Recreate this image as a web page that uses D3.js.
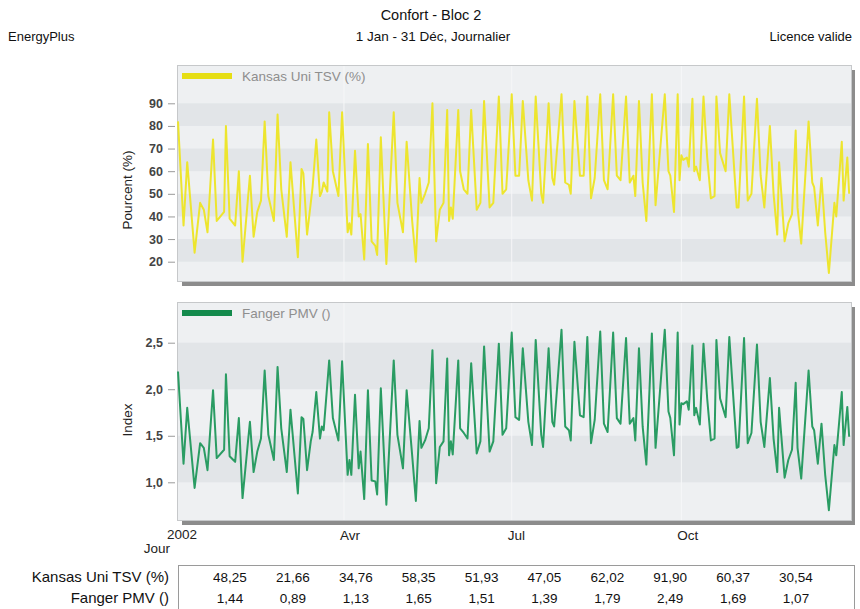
<!DOCTYPE html>
<html>
<head>
<meta charset="utf-8">
<script src="https://cdn.jsdelivr.net/npm/d3@7"></script>
<style>
  body { margin: 0; background: #fff; }
  text { font-family: "Liberation Sans", Arial, sans-serif; }
</style>
</head>
<body>
<script>
// data (day of year 2002, value)
const tsvDays = [0,3,5,9,12,14,16,19,21,25,26,28,31,33,35,39,41,43,45,47,49,52,54,56,59,61,65,67,68,70,73,75,77,78,79,81,82,84,87,89,
  92,93,94,96,98,99,101,103,105,107,108,110,113,117,119,122,124,127,129,131,132,134,136,138,140,142,144,146,147,148,149,
  152,153,155,157,159,162,164,166,169,171,174,176,178,181,183,185,187,190,192,194,197,198,201,203,204,208,210,212,213,
  215,218,220,222,224,226,229,231,233,236,238,240,243,245,247,248,250,252,254,257,259,264,266,267,269,271,272,273,274,
  276,277,279,280,281,283,285,287,289,291,292,294,297,299,303,304,307,309,311,314,316,318,321,323,325,326,329,331,333,
  335,336,338,342,344,345,347,349,351,353,356,357,360,361,363,364];
const tsvValues = [82,36,64,24,46,43,33,74,38,42,80,39,36,60,20,58,31,42,47,82,49,38,85,52,31,64,22,61,59,32,53,74,49,51,55,51,86,60,49,86,
  33,37,32,69,40,41,21,72,29,27,23,75,19,86,46,33,73,38,20,57,46,50,55,90,29,43,46,87,38,44,39,
  87,60,52,50,87,43,46,91,44,46,93,50,52,94,58,58,91,56,47,93,50,46,90,57,54,94,55,54,50,
  91,58,58,93,48,57,94,56,52,94,58,56,93,55,58,49,91,55,38,94,45,94,60,58,42,94,56,67,65,
  66,62,92,60,62,56,93,66,48,49,93,68,60,94,44,44,93,47,50,92,58,44,80,50,32,64,29,37,41,
  78,44,28,82,55,53,36,57,33,15,46,40,73,47,66,50];

const pmvDays = [0,3,5,9,12,14,16,19,21,25,26,28,31,33,35,39,41,43,45,47,49,52,54,56,59,61,65,67,68,70,72,73,75,77,78,79,82,84,87,89,
  92,93,94,96,98,99,101,103,105,107,108,110,113,117,119,122,124,127,129,131,132,134,136,138,140,142,144,146,147,148,149,
  152,153,155,157,159,162,164,166,169,171,174,176,178,181,183,185,187,190,192,194,197,198,201,203,204,208,210,212,213,
  215,218,220,222,224,226,229,231,233,236,238,240,243,245,247,248,250,252,254,257,259,264,266,267,269,271,272,273,274,
  276,277,279,280,281,283,285,287,289,291,292,294,297,299,303,304,307,309,311,314,316,318,321,323,325,326,329,331,333,
  335,336,338,342,344,345,347,349,351,353,356,357,360,361,363,364];
const pmvValues = [2.19,1.20,1.80,0.94,1.42,1.37,1.13,1.99,1.26,1.35,2.16,1.28,1.22,1.69,0.83,1.65,1.11,1.33,1.47,2.20,1.51,1.24,2.24,1.58,1.11,1.78,0.88,1.70,1.68,1.13,1.44,1.54,1.97,1.47,1.60,1.56,2.31,1.69,1.45,2.30,
  1.08,1.24,1.08,1.94,1.15,1.33,0.82,1.99,1.02,1.01,0.87,2.01,0.76,2.31,1.51,1.15,1.99,1.29,0.80,1.66,1.37,1.45,1.58,2.42,0.99,1.38,1.44,2.33,1.29,1.44,1.30,
  2.31,1.58,1.53,1.47,2.28,1.31,1.44,2.46,1.33,1.44,2.49,1.51,1.58,2.61,1.70,1.67,2.44,1.65,1.40,2.53,1.51,1.38,2.44,1.65,1.60,2.64,1.60,1.56,1.45,
  2.51,1.72,1.70,2.56,1.42,1.67,2.62,1.63,1.54,2.61,1.69,1.63,2.55,1.63,1.69,1.45,2.44,1.60,1.19,2.60,1.37,2.64,1.76,1.69,1.29,2.61,1.62,1.85,1.84,
  1.87,1.78,2.47,1.72,1.80,1.62,2.49,1.90,1.45,1.47,2.53,1.90,1.70,2.56,1.37,1.38,2.55,1.42,1.53,2.48,1.65,1.38,2.12,1.47,1.11,1.80,1.05,1.24,1.35,
  2.07,1.37,1.04,2.20,1.60,1.56,1.20,1.63,1.08,0.70,1.40,1.29,1.97,1.40,1.81,1.49];

const monthLabels = ['Avr', 'Jul', 'Oct'];
const monthIndex = [3, 6, 9];
const tsvTicks = [20, 30, 40, 50, 60, 70, 80, 90];
const pmvTicks = [1.0, 1.5, 2.0, 2.5];
const summaryNames = ['Kansas Uni TSV (%)', 'Fanger PMV ()'];
const summaryTsv = ['48,25', '21,66', '34,76', '58,35', '51,93', '47,05', '62,02', '91,90', '60,37', '30,54'];
const summaryPmv = ['1,44', '0,89', '1,13', '1,65', '1,51', '1,39', '1,79', '2,49', '1,69', '1,07'];

// metrics
const width = 860, height = 609;
const x0 = 178, x1 = 851;

const svg = d3.select('body').append('svg')
    .attr('width', width)
    .attr('height', height);

const year0 = new Date(Date.UTC(2002, 0, 1));
const dayDate = d => d3.utcDay.offset(year0, d);
const xScale = d3.scaleUtc()
    .domain([year0, new Date(Date.UTC(2003, 0, 1))])
    .range([x0, x1]);

const comma = f => v => d3.format(f)(v).replace('.', ',');

// header
svg.append('text').attr('x', 431).attr('y', 20).attr('text-anchor', 'middle')
    .attr('font-size', 14.5).attr('fill', '#111').text('Confort - Bloc 2');
svg.append('text').attr('x', 433).attr('y', 41).attr('text-anchor', 'middle')
    .attr('font-size', 13.5).attr('fill', '#111').text('1 Jan - 31 Déc, Journalier');
svg.append('text').attr('x', 8).attr('y', 41)
    .attr('font-size', 13).attr('fill', '#111').text('EnergyPlus');
svg.append('text').attr('x', 852).attr('y', 41).attr('text-anchor', 'end')
    .attr('font-size', 13).attr('fill', '#111').text('Licence valide');

function panel(opt) {
  const g = svg.append('g');
  const top = opt.top, bottom = opt.bottom;
  // shadow + frame
  g.append('rect').attr('x', x0 + 4).attr('y', top + 5)
      .attr('width', x1 - x0).attr('height', bottom - top).attr('fill', '#8c8c8c');
  g.append('rect').attr('x', x0 - 0.5).attr('y', top + 0.5)
      .attr('width', x1 - x0 + 1).attr('height', bottom - top)
      .attr('fill', '#eef0f2').attr('stroke', '#c6c8ca');
  // bands
  const t = opt.ticks;
  for (let i = 0; i < t.length - 1; i += 2) {
    g.append('rect').attr('x', x0).attr('width', x1 - x0)
        .attr('y', opt.y(t[i + 1])).attr('height', opt.y(t[i]) - opt.y(t[i + 1]))
        .attr('fill', '#e2e5e8');
  }
  // month gridlines
  g.selectAll('.vgrid').data(monthIndex).enter().append('line')
      .attr('x1', m => xScale(new Date(Date.UTC(2002, m, 1))))
      .attr('x2', m => xScale(new Date(Date.UTC(2002, m, 1))))
      .attr('y1', top + 1).attr('y2', bottom)
      .attr('stroke', '#f6f7f8').attr('stroke-width', 1);
  // y axis
  const ax = g.append('g').attr('transform', `translate(${x0 - 3},0)`)
      .call(d3.axisLeft(opt.y).tickValues(t).tickFormat(opt.fmt).tickSize(7).tickPadding(5));
  ax.select('.domain').remove();
  ax.selectAll('line').attr('stroke', '#9a9a9a');
  ax.selectAll('text').attr('font-size', 12.5).attr('font-weight', 'bold')
      .attr('fill', '#444').style('font-family', '"Liberation Sans", Arial, sans-serif');
  g.append('text')
      .attr('transform', `translate(132,${opt.labelY}) rotate(-90)`)
      .attr('text-anchor', 'middle').attr('font-size', 13.5).attr('fill', '#222')
      .text(opt.label);
  // line
  const pts = opt.days.map((d, i) => [d, opt.values[i]]);
  g.append('path').datum(pts)
      .attr('fill', 'none').attr('stroke', opt.color).attr('stroke-width', 2)
      .attr('stroke-linejoin', 'round')
      .attr('d', d3.line().x(d => xScale(dayDate(d[0]))).y(d => opt.y(d[1])));
  // legend
  g.append('rect').attr('x', 182).attr('y', top + 8).attr('width', 50).attr('height', 6)
      .attr('fill', opt.swatch);
  g.append('text').attr('x', 242).attr('y', top + 16).attr('font-size', 13.5)
      .attr('fill', '#8e8e8e').text(opt.name);
}

panel({
  top: 65, bottom: 281,
  y: d3.scaleLinear().domain([20, 90]).range([261.7, 103.3]),
  ticks: tsvTicks, fmt: comma('d'),
  days: tsvDays, values: tsvValues,
  color: '#ede52e', swatch: '#e6de14',
  name: 'Kansas Uni TSV (%)', label: 'Pourcent (%)', labelY: 190
});
panel({
  top: 302, bottom: 520,
  y: d3.scaleLinear().domain([1.0, 2.5]).range([482.3, 342.7]),
  ticks: pmvTicks, fmt: comma('.1f'),
  days: pmvDays, values: pmvValues,
  color: '#2a9c63', swatch: '#138a4c',
  name: 'Fanger PMV ()', label: 'Index', labelY: 420
});

// x labels
svg.append('text').attr('x', 182).attr('y', 539).attr('text-anchor', 'middle')
    .attr('font-size', 13.5).attr('fill', '#222').text('2002');
svg.append('text').attr('x', 170).attr('y', 553).attr('text-anchor', 'end')
    .attr('font-size', 13.5).attr('fill', '#222').text('Jour');
svg.selectAll('.mlab').data(monthIndex).enter().append('text')
    .attr('x', m => xScale(new Date(Date.UTC(2002, m, 1))) - 4)
    .attr('y', 540).attr('font-size', 13.5).attr('fill', '#222')
    .text((m, i) => monthLabels[i]);

// summary table
svg.append('rect').attr('x', 178.5).attr('y', 565.5).attr('width', 676).attr('height', 44)
    .attr('fill', '#fff').attr('stroke', '#9a9a9a');
const colX = d3.scaleLinear().domain([0, 9]).range([230, 796]);
[summaryTsv, summaryPmv].forEach((row, r) => {
  const yy = 582 + r * 21;
  svg.append('text').attr('x', 169).attr('y', yy).attr('text-anchor', 'end')
      .attr('font-size', 15).attr('fill', '#111').text(summaryNames[r]);
  svg.selectAll('.c' + r).data(row).enter().append('text')
      .attr('x', (d, i) => colX(i)).attr('y', yy).attr('text-anchor', 'middle')
      .attr('font-size', 13.5).attr('fill', '#111').text(d => d);
});
</script>
</body>
</html>
